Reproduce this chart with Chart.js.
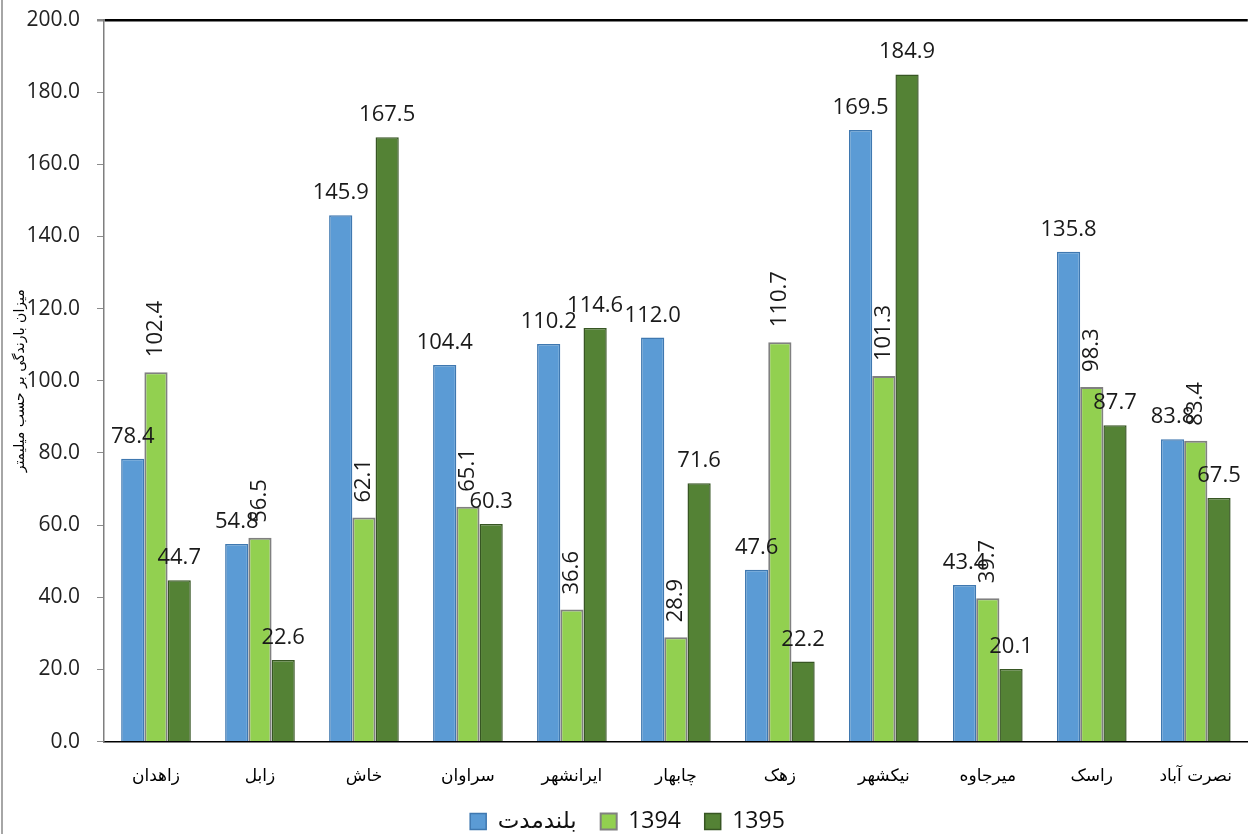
<!DOCTYPE html>
<html>
<head>
<meta charset="utf-8">
<script src="https://cdn.jsdelivr.net/npm/chart.js@4.4.1/dist/chart.umd.min.js"></script>
<style>
  html, body { margin: 0; padding: 0; background: #fff; }
  #wrap { position: relative; width: 1249px; height: 834px; }
  #edge { position: absolute; left: 1px; top: 0; width: 2px; height: 834px; background: #a6a6a6; }
</style>
</head>
<body>
<div id="wrap">
  <canvas id="rainChart" width="1249" height="834"></canvas>
  <div id="edge"></div>
</div>
<script>
// ------------------------
// Data
// ------------------------
const stations = ["زاهدان", "زابل", "خاش", "سراوان", "ایرانشهر", "چابهار", "زهک", "نیکشهر", "میرجاوه", "راسک", "نصرت آباد"];
const longTerm = [78.4, 54.8, 145.9, 104.4, 110.2, 112.0, 47.6, 169.5, 43.4, 135.8, 83.8];
const year1394 = [102.4, 56.5, 62.1, 65.1, 36.6, 28.9, 110.7, 101.3, 39.7, 98.3, 83.4];
const year1395 = [44.7, 22.6, 167.5, 60.3, 114.6, 71.6, 22.2, 184.9, 20.1, 87.7, 67.5];
const seriesNames = ["بلندمدت", "1394", "1395"];
const yTitle = "میزان بارندگی بر حسب میلیمتر";

// value labels above bars (second series drawn rotated, like the original)
const valueLabels = {
    id: "valueLabels",
    afterDatasetsDraw(chart) {
        const ctx = chart.ctx;
        ctx.save();
        ctx.font = '22px "Open Sans"';
        ctx.fillStyle = "#1a1a1a";
        chart.data.datasets.forEach((ds, i) => {
            const meta = chart.getDatasetMeta(i);
            meta.data.forEach((bar, j) => {
                const txt = ds.data[j].toFixed(1);
                if (ds.rotateLabels) {
                    ctx.save();
                    ctx.translate(bar.x, bar.y - 15);
                    ctx.rotate(-Math.PI / 2);
                    ctx.textAlign = "left";
                    ctx.textBaseline = "middle";
                    ctx.fillText(txt, 0, 0);
                    ctx.restore();
                } else {
                    ctx.textAlign = "center";
                    ctx.textBaseline = "alphabetic";
                    ctx.fillText(txt, bar.x, bar.y - 16);
                }
            });
        });
        ctx.restore();
    }
};

const ctx = document.getElementById("rainChart").getContext("2d");
new Chart(ctx, {
    type: "bar",
    data: {
        labels: stations,
        datasets: [
            { label: seriesNames[0], data: longTerm, backgroundColor: "#5b9bd5", borderColor: "#3f78b0", borderWidth: 1.5 },
            { label: seriesNames[1], data: year1394, backgroundColor: "#92d050", borderColor: "#808080", borderWidth: 2, rotateLabels: true },
            { label: seriesNames[2], data: year1395, backgroundColor: "#548235", borderColor: "#375623", borderWidth: 1.5 }
        ]
    },
    options: {
        responsive: false,
        animation: false,
        devicePixelRatio: 1,
        layout: { padding: { left: 6, right: 0, top: 0, bottom: -9 } },
        datasets: { bar: { categoryPercentage: 0.67, barPercentage: 1.0 } },
        scales: {
            x: {
                grid: { display: false },
                border: { display: true, color: "#000", width: 1.5 },
                ticks: { color: "#000", font: { family: "DejaVu Sans", size: 17 }, padding: 17 }
            },
            y: {
                min: 0,
                max: 200,
                afterFit: scale => {
                    scale.width = 98;
                    scale.paddingTop = 20;
                },
                ticks: {
                    stepSize: 20,
                    color: "#222",
                    font: { family: "Open Sans", size: 21 },
                    padding: 17,
                    callback: v => v.toFixed(1)
                },
                grid: {
                    drawOnChartArea: true,
                    drawTicks: true,
                    tickLength: 7,
                    tickColor: "#8c8c8c",
                    color: c => (c.tick && c.tick.value === 200 ? "#000" : "rgba(0,0,0,0)"),
                    lineWidth: c => (c.tick && c.tick.value === 200 ? 2.5 : 1)
                },
                border: { display: true, color: "#7f7f7f", width: 1.5 },
                title: {
                    display: true,
                    text: yTitle,
                    color: "#000",
                    font: { family: "DejaVu Sans", size: 14 },
                    padding: { top: 6, bottom: 2 }
                }
            }
        },
        plugins: {
            legend: {
                position: "bottom",
                labels: {
                    color: "#111",
                    font: { family: "Open Sans, DejaVu Sans", size: 23 },
                    boxWidth: 16,
                    boxHeight: 16,
                    padding: 6,
                    // wider gaps between legend entries
                    generateLabels: chart => Chart.defaults.plugins.legend.labels.generateLabels(chart)
                        .map((item, i, all) => ({ ...item, text: i < all.length - 1 ? item.text + "   " : item.text }))
                }
            },
            tooltip: { enabled: false }
        }
    },
    plugins: [valueLabels]
});
</script>
</body>
</html>
